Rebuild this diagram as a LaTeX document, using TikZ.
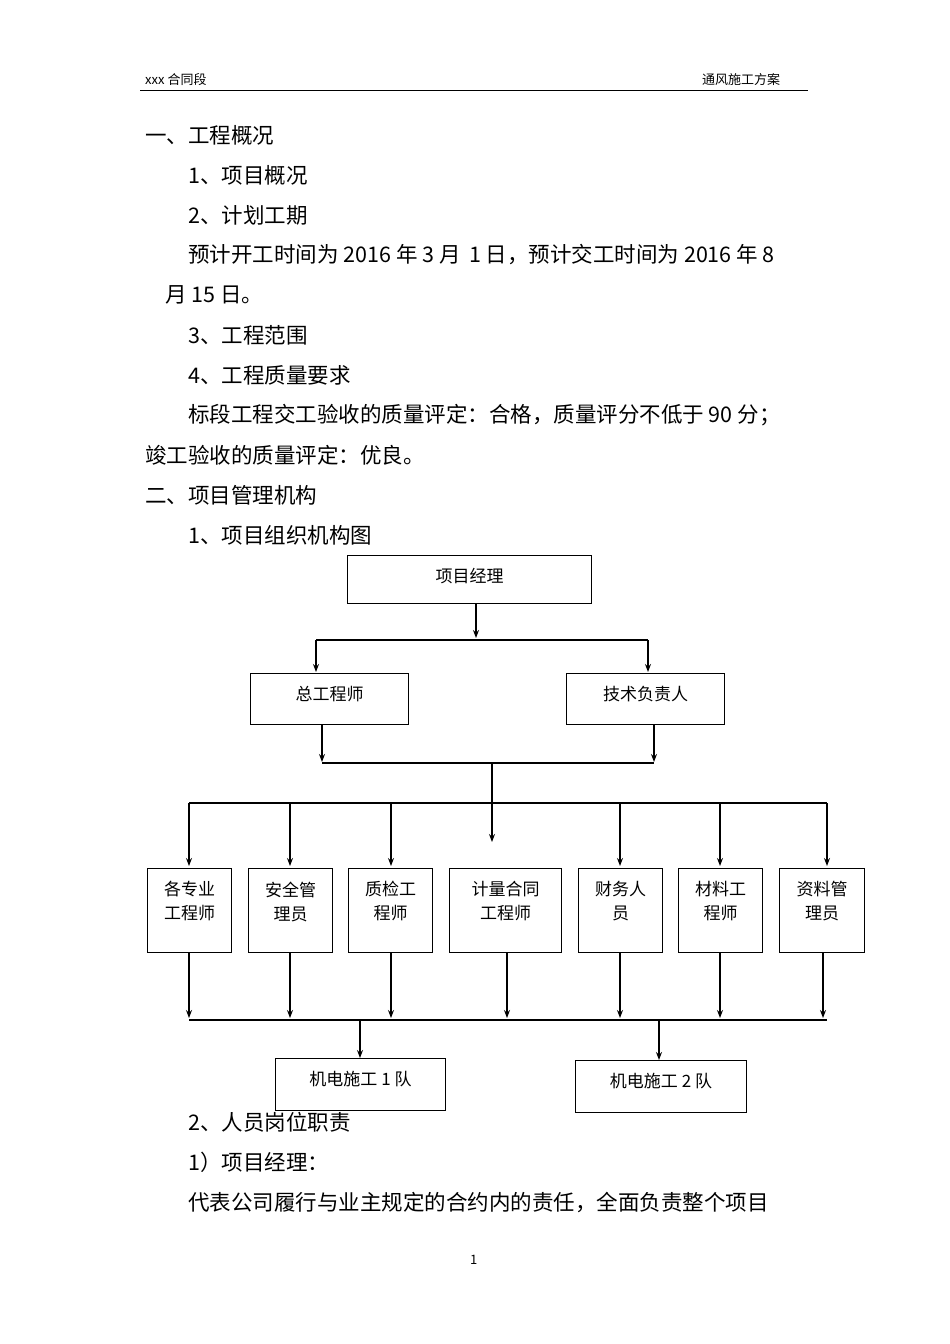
\documentclass[tikz,border=0pt]{standalone}
\usepackage{fontspec}
\setmainfont{Liberation Serif}
\newfontfamily\cjk{Noto Sans CJK SC}
\usetikzlibrary{arrows.meta,positioning,calc}
\tikzset{
  body/.style={anchor=west,font=\cjk\fontsize{21.5pt}{23pt}\selectfont,inner sep=0pt},
  head/.style={anchor=west,font=\cjk\fontsize{13pt}{15pt}\selectfont,inner sep=0pt},
  box/.style={draw,line width=1pt,anchor=north west,align=center,inner sep=0pt},
  lbl/.style={font=\cjk\fontsize{17pt}{24pt}\selectfont,align=center,anchor=north},
  arr/.style={-{Stealth[length=8pt,width=6pt]},line width=1.2pt},
  ln/.style={line width=1.2pt}
}
\newcommand{\orgbox}[6]{% name, x1, y1, x2, y2, text
  \node[box,minimum width=#4-#2,minimum height=#5-#3] (#1) at (#2,#3) {};
  \node[lbl] (#1t) at ($(#1.north)+(0,10)$) {#6};
}
\begin{document}
\begin{tikzpicture}[x=1pt,y=-1pt]
\useasboundingbox (0,0) rectangle (950,1344);
% header
\node[head] (h1) at (145,80) {xxx 合同段};
\node[head] (h2) at (702,80) {通风施工方案};
\draw[line width=0.8pt] (140,90) -- (808,90);
% text
\node[body] at (145,135) {一、工程概况};
\node[body] at (188,175) {1、项目概况};
\node[body] at (188,215) {2、计划工期};
\node[body] at (188,255) {预计开工时间为 2016 年 3 月 \,1 日，预计交工时间为 2016 年 8};
\node[body] at (165,295) {月 15 日。};
\node[body] at (188,335) {3、工程范围};
\node[body] at (188,375) {4、工程质量要求};
\node[body] at (188,415) {标段工程交工验收的质量评定：合格，质量评分不低于 90 分；};
\node[body] at (145,455) {竣工验收的质量评定：优良。};
\node[body] at (145,495) {二、项目管理机构};
\node[body] at (188,535) {1、项目组织机构图};
% chart
\orgbox{pm}{347}{555}{591}{603}{项目经理}
\orgbox{ce}{250}{673}{408}{724}{总工程师}
\orgbox{td}{566}{673}{724}{724}{技术负责人}
\draw[ln] (316,640) -- (648,640);
\draw[arr] (316,640) -- (316,672);
\draw[arr] (648,640) -- (648,672);
\draw[arr] (pm.south -| 476,0) -- (476,638);
\draw[arr] (322,724) -- (322,762);
\draw[arr] (654,724) -- (654,762);
\draw[ln] (322,763) -- (654,763);
\draw[ln] (189,803) -- (827,803);
\draw[arr] (492,763) -- (492,842);
\orgbox{b1}{147}{868}{231}{952}{各专业\\工程师}
\orgbox{b2}{248}{868}{332}{952}{安全管\\理员}
\orgbox{b3}{348}{868}{432}{952}{质检工\\程师}
\orgbox{b4}{449}{868}{561}{952}{计量合同\\工程师}
\orgbox{b5}{578}{868}{662}{952}{财务人\\员}
\orgbox{b6}{678}{868}{762}{952}{材料工\\程师}
\orgbox{b7}{779}{868}{864}{952}{资料管\\理员}
\foreach \x in {189,290,391,620,720,827} \draw[arr] (\x,803) -- (\x,866);
\foreach \x in {189,290,391,507,620,720,823} \draw[arr] (\x,952) -- (\x,1018);
\draw[ln] (189,1020) -- (827,1020);
\orgbox{t1}{275}{1058}{445}{1110}{机电施工 1 队}
\orgbox{t2}{575}{1060}{746}{1112}{机电施工 2 队}
\draw[arr] (360,1020) -- (t1.north -| 360,0);
\draw[arr] (659,1020) -- (t2.north -| 659,0);
% text
\node[body] at (188,1122) {2、人员岗位职责};
\node[body] at (188,1162) {1）项目经理：};
\node[body] at (188,1202) {代表公司履行与业主规定的合约内的责任，全面负责整个项目};
\node[head] at (470,1260) {1};
\end{tikzpicture}
\end{document}
